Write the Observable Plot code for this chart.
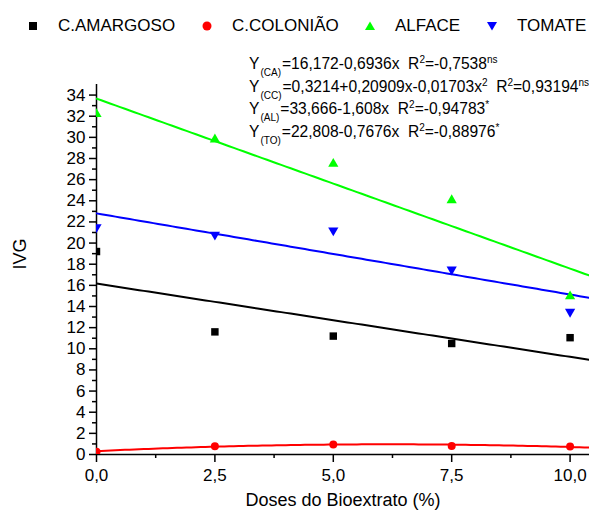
<!DOCTYPE html>
<html>
<head>
<meta charset="utf-8">
<script src="https://cdn.jsdelivr.net/npm/d3@7"></script>
<script src="https://cdn.jsdelivr.net/npm/@observablehq/plot@0.6"></script>
<style>
  html, body { margin: 0; padding: 0; background: #fff; }
  #wrap { position: relative; width: 589px; height: 514px; font-family: "Liberation Sans", Arial, sans-serif; color: #000; }
  #legend { position: relative; width: 589px; height: 50px; }
  .lg-sym { position: absolute; }
  .lg-txt { position: absolute; font-size: 17px; line-height: 20px; white-space: nowrap; }
  .eq { position: absolute; left: 249px; font-size: 15.6px; line-height: 15px; white-space: nowrap; }
  .eq .sub { font-size: 10px; position: relative; top: 7px; margin: 0 1px 0 1px; }
  .eq .sup { font-size: 10px; position: relative; top: -6px; }
  svg { display: block; }
</style>
</head>
<body>
<div id="wrap">
  <div id="legend"></div>
  <div id="chart"></div>
  <div id="eqs"></div>
</div>
<script>
// ---- data ----
const doses = [0, 2.5, 5, 7.5, 10];
const seriesNames = ["C.AMARGOSO", "C.COLONIÃO", "ALFACE", "TOMATE"];
const amargoso = [19.2, 11.6, 11.2, 10.5, 11.05];
const coloniao = [0.27, 0.77, 0.95, 0.8, 0.76];
const alface = [32.2, 29.8, 27.5, 24.05, 14.96];
const tomate = [21.5, 20.8, 21.2, 17.5, 13.5];
// fitted equations shown in the chart: [a, b, c] for y = a + b x + c x^2
const coefCA = [16.172, -0.6936, 0];
const coefCC = [0.3214, 0.20909, -0.01703];
const coefAL = [33.666, -1.608, 0];
const coefTO = [22.808, -0.7676, 0];
const xTicks = [0, 2.5, 5, 7.5, 10];
const xMinor = [1.25, 3.75, 6.25, 8.75];
const yTicks = d3.range(0, 35, 2);
const yMinor = d3.range(1, 35, 2);
const colors = ["#000000", "#ff0000", "#00ff00", "#0000ff"];

// custom downward triangle symbol
const triangleDown = {
  draw(context, size) {
    const s3 = Math.sqrt(3);
    const y = -Math.sqrt(size / (s3 * 3));
    context.moveTo(0, -y * 2);
    context.lineTo(-s3 * y, y);
    context.lineTo(s3 * y, y);
    context.closePath();
  }
};

const toRows = (vals) => doses.map((d, i) => ({x: d, y: vals[i]}));
const xFit = d3.range(0, 11.001, 0.1);
const fit = (c) => xFit.map(x => ({x, y: c[0] + c[1] * x + c[2] * x * x}));

const chart = Plot.plot({
  width: 589,
  height: 464,
  marginLeft: 96,
  marginRight: 0,
  marginTop: 34,
  marginBottom: 60,
  style: {fontFamily: "Liberation Sans, Arial, sans-serif", color: "#000", background: "#fff"},
  x: {domain: [0, 10.41]},
  y: {domain: [0, 35]},
  marks: [
    Plot.axisY({ticks: yTicks, tickSize: 7, tickPadding: 4, fontSize: 17, strokeWidth: 1.5, label: null}),
    Plot.axisY({ticks: yMinor, tickSize: 4, tickFormat: () => "", strokeWidth: 1.5, label: null}),
    Plot.axisX({ticks: xTicks, tickSize: 8, tickPadding: 6, fontSize: 17, strokeWidth: 1.5, label: null,
      tickFormat: d => d.toFixed(1).replace(".", ",")}),
    Plot.axisX({ticks: xMinor, tickSize: 4, tickFormat: () => "", strokeWidth: 1.5, label: null}),
    Plot.ruleX([0], {y1: 0, y2: 35, strokeWidth: 1.5}),
    Plot.ruleY([0], {strokeWidth: 1.5}),
    Plot.line(fit(coefCA), {x: "x", y: "y", stroke: colors[0], strokeWidth: 2, clip: true}),
    Plot.line(fit(coefCC), {x: "x", y: "y", stroke: colors[1], strokeWidth: 2, clip: true}),
    Plot.line(fit(coefAL), {x: "x", y: "y", stroke: colors[2], strokeWidth: 2, clip: true}),
    Plot.line(fit(coefTO), {x: "x", y: "y", stroke: colors[3], strokeWidth: 2, clip: true}),
    Plot.dot(toRows(amargoso), {x: "x", y: "y", symbol: "square", r: 4.2, fill: colors[0], clip: true}),
    Plot.dot(toRows(coloniao), {x: "x", y: "y", symbol: "circle", r: 4, fill: colors[1], clip: true}),
    Plot.dot(toRows(alface), {x: "x", y: "y", symbol: "triangle", r: 3.8, fill: colors[2], clip: true}),
    Plot.dot(toRows(tomate), {x: "x", y: "y", symbol: triangleDown, r: 3.8, fill: colors[3], clip: true}),
    Plot.text(["IVG"], {frameAnchor: "left", rotate: -90, dx: -76, fontSize: 18}),
    Plot.text(["Doses do Bioextrato (%)"], {frameAnchor: "bottom", dy: 46, fontSize: 18, lineAnchor: "middle"})
  ]
});
document.getElementById("chart").appendChild(chart);

// ---- legend ----
const legend = document.getElementById("legend");
const symCenters = [33, 207, 370, 492];
const txtLeft = [58, 232, 395, 517];
const symSvg = [
  `<svg width="14" height="14"><rect x="3" y="3" width="8" height="8" fill="${colors[0]}"/></svg>`,
  `<svg width="14" height="14"><circle cx="7" cy="7" r="4.5" fill="${colors[1]}"/></svg>`,
  `<svg width="14" height="14"><path d="M7,2.5L12,11L2,11Z" fill="${colors[2]}"/></svg>`,
  `<svg width="14" height="14"><path d="M7,11.5L12,3L2,3Z" fill="${colors[3]}"/></svg>`
];
seriesNames.forEach((name, i) => {
  const s = document.createElement("div");
  s.className = "lg-sym";
  s.style.left = (symCenters[i] - 7) + "px";
  s.style.top = (26 - 7) + "px";
  s.innerHTML = symSvg[i];
  legend.appendChild(s);
  const t = document.createElement("div");
  t.className = "lg-txt";
  t.style.left = txtLeft[i] + "px";
  t.style.top = (26 - 10) + "px";
  t.textContent = name;
  legend.appendChild(t);
});

// ---- equations ----
const eqLines = [
  {sub: "(CA)", body: "=16,172-0,6936x", r2: "=-0,7538", sig: "ns"},
  {sub: "(CC)", body: "=0,3214+0,20909x-0,01703x<span class=\"sup\">2</span>", r2: "=0,93194", sig: "ns"},
  {sub: "(AL)", body: "=33,666-1,608x", r2: "=-0,94783", sig: "*"},
  {sub: "(TO)", body: "=22,808-0,7676x", r2: "=-0,88976", sig: "*"}
];
const eqTops = [56, 79, 101, 124];
const eqs = document.getElementById("eqs");
eqLines.forEach((l, i) => {
  const d = document.createElement("div");
  d.className = "eq";
  d.style.top = eqTops[i] + "px";
  d.innerHTML = `Y<span class="sub">${l.sub}</span>${l.body}&nbsp; R<span class="sup">2</span>${l.r2}<span class="sup">${l.sig}</span>`;
  eqs.appendChild(d);
});
</script>
</body>
</html>
